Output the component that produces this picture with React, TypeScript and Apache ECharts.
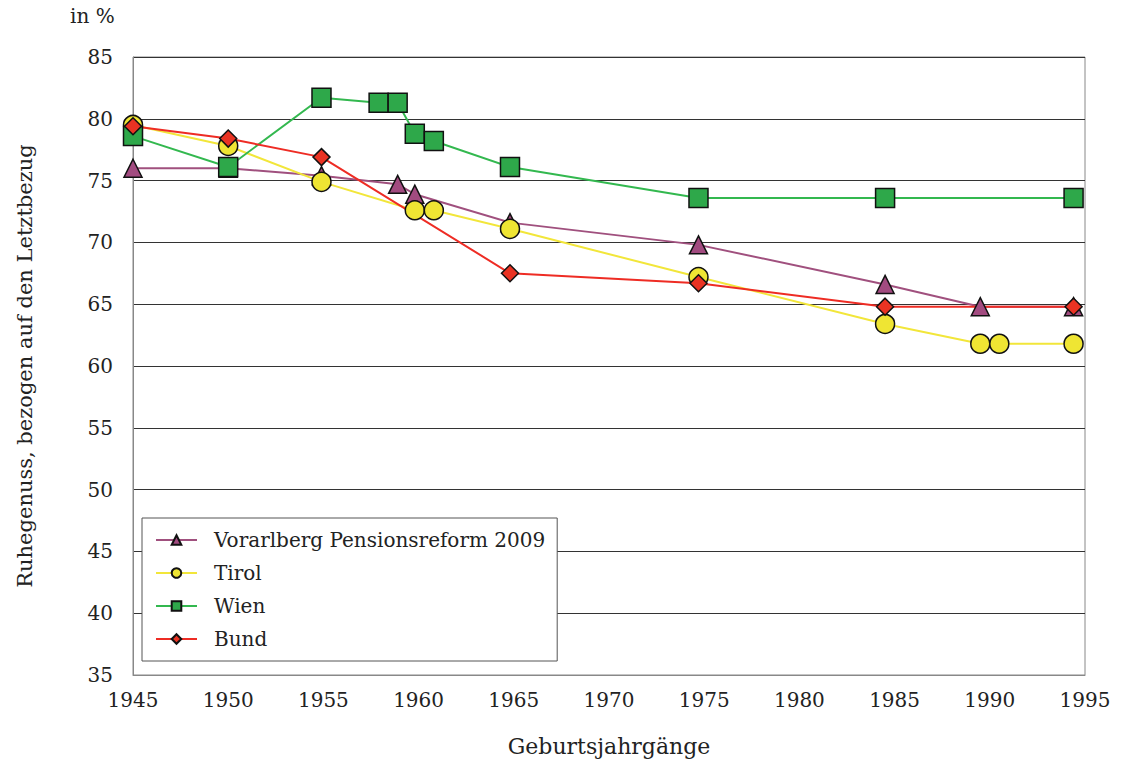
import React, { useEffect, useRef } from "react";
import * as echarts from "echarts";

const seriesNames = ["Vorarlberg Pensionsreform 2009", "Tirol", "Wien", "Bund"];

const vorarlbergYears = [1945, 1950, 1954.9, 1958.9, 1959.8, 1964.8, 1974.7, 1984.5, 1989.5, 1994.4];
const vorarlbergValues = [76.0, 76.0, 75.4, 74.7, 73.9, 71.6, 69.8, 66.6, 64.8, 64.8];

const tirolYears = [1945, 1950, 1954.9, 1959.8, 1960.8, 1964.8, 1974.7, 1984.5, 1989.5, 1990.5, 1994.4];
const tirolValues = [79.5, 77.8, 74.9, 72.6, 72.6, 71.1, 67.2, 63.4, 61.8, 61.8, 61.8];

const wienYears = [1945, 1950, 1954.9, 1957.9, 1958.9, 1959.8, 1960.8, 1964.8, 1974.7, 1984.5, 1994.4];
const wienValues = [78.6, 76.1, 81.7, 81.3, 81.3, 78.8, 78.2, 76.1, 73.6, 73.6, 73.6];

const bundYears = [1945, 1950, 1954.9, 1964.8, 1974.7, 1984.5, 1994.4];
const bundValues = [79.4, 78.4, 76.9, 67.5, 66.7, 64.8, 64.8];

const yTicks = { min: 35, max: 85, interval: 5 };
const xTicks = { min: 1945, max: 1995, interval: 5 };

const FONT = "DejaVu Serif";

function pairs(xs: number[], ys: number[]) {
  return xs.map((x, i) => [x, ys[i]]);
}

export default function App() {
  const ref = useRef<HTMLDivElement>(null);
  useEffect(() => {
    if (!ref.current) return;
    const chart = echarts.init(ref.current, null, { renderer: "svg" });
    const mk = (
      name: string,
      data: number[][],
      color: string,
      lineColor: string,
      symbol: string,
      size: number
    ) => ({
      name,
      type: "line",
      data,
      symbol,
      symbolSize: size,
      showAllSymbol: true,
      lineStyle: { color: lineColor, width: 2 },
      itemStyle: { color, borderColor: "#111", borderWidth: 1.5 },
      emphasis: { disabled: true },
    });
    chart.setOption({
      animation: false,
      backgroundColor: "#fff",
      textStyle: { fontFamily: FONT },
      grid: { left: 133, right: 42, top: 57, bottom: 87, show: true, borderColor: "#888", borderWidth: 1 },
      xAxis: {
        type: "value",
        min: xTicks.min,
        max: xTicks.max,
        interval: xTicks.interval,
        name: "Geburtsjahrgänge",
        nameLocation: "middle",
        nameGap: 60,
        nameTextStyle: { fontFamily: FONT, fontSize: 22, color: "#222" },
        axisLine: { show: true, lineStyle: { color: "#888" } },
        axisTick: { show: false },
        splitLine: { show: false },
        axisLabel: { fontFamily: FONT, fontSize: 20, color: "#222", margin: 15, formatter: (v: number) => String(v) },
      },
      yAxis: {
        type: "value",
        min: yTicks.min,
        max: yTicks.max,
        interval: yTicks.interval,
        name: "Ruhegenuss, bezogen auf den Letztbezug",
        nameLocation: "middle",
        nameGap: 98,
        nameTextStyle: { fontFamily: FONT, fontSize: 21, color: "#222" },
        axisLine: { show: true, lineStyle: { color: "#888" } },
        axisTick: { show: false },
        splitLine: { show: true, lineStyle: { color: "#333", width: 1 } },
        axisLabel: { fontFamily: FONT, fontSize: 20, color: "#222", margin: 20 },
      },
      legend: {
        orient: "vertical",
        left: 142,
        top: 518,
        data: seriesNames,
        backgroundColor: "#fff",
        borderColor: "#555",
        borderWidth: 1,
        padding: [12, 12, 12, 13],
        itemWidth: 41,
        itemHeight: 12,
        itemGap: 13,
        textStyle: { fontFamily: FONT, fontSize: 20, color: "#222", padding: [0, 0, 0, 12], lineHeight: 20 },
      },
      graphic: [
        {
          type: "text",
          left: 70,
          top: 6,
          style: { text: "in %", fontFamily: FONT, fontSize: 20, fill: "#222" },
        },
      ],
      series: [
        mk(seriesNames[0], pairs(vorarlbergYears, vorarlbergValues), "#A24B80", "#A0507E", "triangle", 18),
        mk(seriesNames[1], pairs(tirolYears, tirolValues), "#EFE533", "#F2E63A", "circle", 19),
        mk(seriesNames[2], pairs(wienYears, wienValues), "#2EA84A", "#33B84F", "rect", 19),
        mk(seriesNames[3], pairs(bundYears, bundValues), "#EA3323", "#EE2C24", "diamond", 17),
      ],
    });
    return () => chart.dispose();
  }, []);
  return (
    <div
      ref={ref}
      style={{ position: "fixed", left: 0, top: 0, width: 1127, height: 762, background: "#fff" }}
    />
  );
}
